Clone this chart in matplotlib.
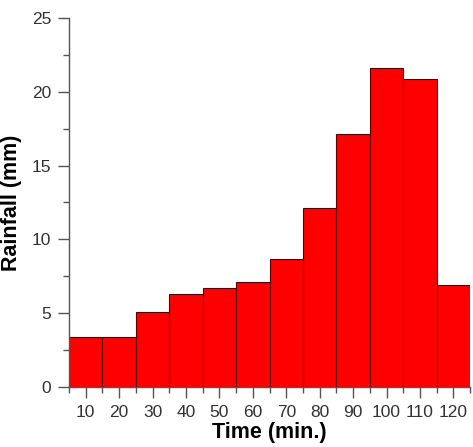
import matplotlib.pyplot as plt
from matplotlib.ticker import MultipleLocator

plt.rcParams['font.family'] = ['Liberation Sans', 'DejaVu Sans']

# 降雨时程分布（每10分钟）
time_min = [10, 20, 30, 40, 50, 60, 70, 80, 90, 100, 110, 120]
rainfall_mm = [3.35, 3.4, 5.1, 6.3, 6.7, 7.1, 8.65, 12.1, 17.15, 21.65, 20.9, 6.9]

fig = plt.figure(figsize=(4.73, 4.47), dpi=100)
ax = fig.add_axes([0.146, 0.135, 0.848, 0.824])

ax.bar(time_min, rainfall_mm, width=10, color="#ff0000",
       edgecolor="#5a0000", linewidth=0.8)

ax.set_xlim(5, 125)
ax.set_ylim(0, 25)
ax.xaxis.set_major_locator(MultipleLocator(10))
ax.xaxis.set_minor_locator(MultipleLocator(5))
ax.yaxis.set_major_locator(MultipleLocator(5))
ax.yaxis.set_minor_locator(MultipleLocator(2.5))

for side in ["top", "right"]:
    ax.spines[side].set_visible(False)
for side in ["left", "bottom"]:
    ax.spines[side].set_color("#555555")
    ax.spines[side].set_linewidth(1.0)

ax.tick_params(which="major", length=8, width=1, color="#555555",
               labelsize=12.5, labelcolor="#333333", pad=5)
ax.tick_params(which="minor", length=4.5, width=1, color="#555555")

ax.set_xlabel("Time (min.)", fontsize=15.5, fontweight="bold", labelpad=2)
ax.set_ylabel("Rainfall (mm)", fontsize=15.5, fontweight="bold", labelpad=7)

fig.savefig("out.png", dpi=100)
